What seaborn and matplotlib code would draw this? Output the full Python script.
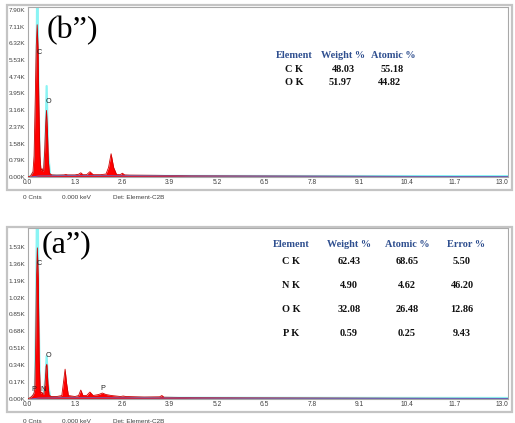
import numpy as np
import pandas as pd
import matplotlib
matplotlib.use("Agg")
import matplotlib.pyplot as plt
from matplotlib.patches import Rectangle
import seaborn as sns

# ---------------- data ----------------
# keV axis ticks
x_ticks = [0.0, 1.3, 2.6, 3.9, 5.2, 6.5, 7.8, 9.1, 10.4, 11.7, 13.0]

# (b'') spectrum, counts in thousands
b_energy = [0.00, 0.08, 0.15, 0.18, 0.21, 0.24, 0.265, 0.29, 0.31, 0.34, 0.37, 0.40,
            0.42, 0.44, 0.47, 0.50, 0.52, 0.545, 0.57, 0.60, 0.66, 0.80, 1.00, 1.05,
            1.10, 1.30, 1.40, 1.46, 1.52, 1.62, 1.71, 1.80, 2.00, 2.15, 2.22, 2.29,
            2.36, 2.44, 2.54, 2.60, 2.66, 2.80, 3.50, 4.50, 6.00, 8.00, 10.00, 13.18]
b_counts = [0.00, 0.04, 0.25, 1.00, 3.50, 6.20, 7.20, 6.00, 3.50, 1.00, 0.30, 0.40,
            0.28, 0.30, 1.20, 2.60, 3.15, 2.20, 0.80, 0.18, 0.10, 0.09, 0.10, 0.12,
            0.10, 0.10, 0.13, 0.20, 0.11, 0.11, 0.25, 0.11, 0.11, 0.14, 0.45, 1.10,
            0.45, 0.12, 0.11, 0.18, 0.10, 0.09, 0.08, 0.06, 0.05, 0.04, 0.03, 0.02]
b_fit_energy = [0.00, 0.10, 0.20, 0.24, 0.27, 0.30, 0.34, 0.44, 0.49, 0.525, 0.56,
                0.62, 1.00, 2.00, 13.18]
b_fit_counts = [0.00, 0.05, 0.30, 4.00, 9.50, 4.00, 0.20, 0.10, 1.50, 4.30, 1.20,
                0.08, 0.06, 0.05, 0.04]
b_yticks = [0.00, 0.79, 1.58, 2.37, 3.16, 3.95, 4.74, 5.53, 6.32, 7.11, 7.90]
b_peaks = [("C", 0.31, 5.90), ("O", 0.57, 3.58)]
b_rows = [("C K", "48.03", "55.18"), ("O K", "51.97", "44.82")]
b_header = ["Element", "Weight %", "Atomic %"]

# (a'') spectrum, counts in thousands
a_energy = [0.00, 0.08, 0.14, 0.18, 0.20, 0.22, 0.245, 0.27, 0.295, 0.32, 0.35, 0.37,
            0.39, 0.42, 0.45, 0.48, 0.51, 0.53, 0.56, 0.59, 0.65, 0.80, 0.94, 0.99,
            1.03, 1.07, 1.12, 1.30, 1.40, 1.46, 1.52, 1.62, 1.71, 1.80, 1.95, 2.05,
            2.15, 2.30, 2.55, 2.62, 2.70, 3.20, 3.62, 3.68, 3.74, 4.50, 6.00, 8.00,
            10.00, 13.18]
a_counts = [0.00, 0.015, 0.035, 0.06, 0.10, 0.45, 1.20, 1.52, 1.20, 0.40, 0.06, 0.06,
            0.07, 0.05, 0.05, 0.15, 0.33, 0.35, 0.15, 0.04, 0.025, 0.025, 0.035, 0.18,
            0.30, 0.16, 0.035, 0.025, 0.035, 0.09, 0.035, 0.035, 0.07, 0.035, 0.045,
            0.06, 0.045, 0.035, 0.025, 0.03, 0.025, 0.02, 0.022, 0.035, 0.018, 0.014,
            0.012, 0.010, 0.008, 0.006]
a_fit_energy = [0.00, 0.10, 0.20, 0.24, 0.27, 0.30, 0.34, 0.44, 0.49, 0.525, 0.56,
                0.62, 1.00, 2.00, 13.18]
a_fit_counts = [0.00, 0.01, 0.05, 1.00, 2.50, 1.00, 0.04, 0.03, 0.20, 0.43, 0.15,
                0.02, 0.015, 0.012, 0.01]
a_yticks = [0.00, 0.17, 0.34, 0.51, 0.68, 0.85, 1.02, 1.19, 1.36, 1.53]
a_peaks = [("C", 0.31, 1.36), ("O", 0.57, 0.44), ("P", 0.18, 0.10), ("N", 0.42, 0.10),
           ("P", 2.07, 0.11)]
a_rows = [("C K", "62.43", "68.65", "5.50"), ("N K", "4.90", "4.62", "46.20"),
          ("O K", "32.08", "26.48", "12.86"), ("P K", "0.59", "0.25", "9.43")]
a_header = ["Element", "Weight %", "Atomic %", "Error %"]

bg_energy = [0.10, 0.30, 1.00, 2.00, 4.00, 8.00, 13.18]
bg_level = [0.00, 0.80, 1.00, 1.00, 0.80, 0.60, 0.40]   # relative background shape

# ---------------- style ----------------
sns.set_theme(style="white")
plt.rcParams["font.family"] = ["Liberation Sans", "DejaVu Sans"]

W, H = 515, 423
fig = plt.figure(figsize=(W / 100, H / 100), dpi=100)
fig.patch.set_facecolor("white")

RED = "#ff0000"
RED_EDGE = "#d00000"
CYAN = "#8af4f4"
BLUE = "#5a6fd0"
HEAD = "#2f4f8f"
SERIF = ["Liberation Serif", "DejaVu Serif"]


def fx(px):
    return px / W


def fy(py):
    return 1 - py / H


def panel(frame_top, ax_top, ax_bot, ymax, energy, counts, fit_e, fit_c,
          yticks, peaks, tag, tag_xy, bg_scale, footer_y):
    # outer frame around the spectrum window
    fig.patches.append(Rectangle((fx(7), fy(frame_top + 185)), fx(505), 185 / H,
                                 transform=fig.transFigure, fill=False,
                                 edgecolor="#c4c4c4", linewidth=1.6, zorder=0))
    ax = fig.add_axes([fx(27.5), fy(ax_bot), fx(480), (ax_bot - ax_top) / H])
    ax.set_facecolor("white")
    ax.set_xlim(0, 13.15)
    ax.set_ylim(0, ymax)

    fit = pd.DataFrame({"keV": fit_e, "counts": fit_c})
    sns.lineplot(data=fit, x="keV", y="counts", ax=ax, color=CYAN, lw=1.6,
                 zorder=1, sort=False)
    df = pd.DataFrame({"keV": energy, "counts": counts})
    ax.fill_between(df["keV"], 0, df["counts"], color=RED, linewidth=0, zorder=2)
    sns.lineplot(data=df, x="keV", y="counts", ax=ax, color=RED_EDGE, lw=0.6,
                 zorder=3, sort=False)
    bg = pd.DataFrame({"keV": bg_energy, "counts": np.array(bg_level) * bg_scale})
    sns.lineplot(data=bg, x="keV", y="counts", ax=ax, color=BLUE, lw=0.6,
                 zorder=4, sort=False)

    for name, e, c in peaks:
        ax.text(e, c, name, fontsize=5.2, color="#202020", ha="center", va="center",
                zorder=5)

    ax.set_xticks(x_ticks)
    ax.set_xticklabels([f"{t:.1f}" for t in x_ticks], fontsize=4.8, color="#404040")
    ax.set_yticks(yticks)
    ax.set_yticklabels([f"{t:.2f}K" for t in yticks], fontsize=4.6, color="#404040")
    ax.tick_params(length=0, pad=1.5)
    ax.set_xlabel("")
    ax.set_ylabel("")
    for s in ax.spines.values():
        s.set_color("#a8a8a8")
        s.set_linewidth(0.8)

    ax.text(tag_xy[0], tag_xy[1], tag, transform=fig.transFigure,
            fontsize=23, family=SERIF, color="black", ha="left", va="center",
            zorder=6)

    for txt, x in [("0 Cnts", 23), ("0.000 keV", 62), ("Det: Element-C2B", 113)]:
        fig.text(fx(x), fy(footer_y), txt, fontsize=4.6, color="#404040",
                 ha="left", va="center")
    return ax


panel(5, 7, 177, 8.04, b_energy, b_counts, b_fit_energy, b_fit_counts,
      b_yticks, b_peaks, "(b\u201d)", (fx(47), fy(31)), 0.06, 197)
panel(227, 228, 399, 1.72, a_energy, a_counts, a_fit_energy, a_fit_counts,
      a_yticks, a_peaks, "(a\u201d)", (fx(42), fy(245)), 0.012, 421)

# composition tables
b_cols = [294, 343, 393]
for x, h in zip(b_cols, b_header):
    fig.text(fx(x), fy(56), h, fontsize=7.4, family=SERIF, weight="bold",
             color=HEAD, ha="center", va="center")
b_row_y = [70, 82]
b_val_x = [[294, 343, 392], [294, 340, 389]]
for y, row, xs in zip(b_row_y, b_rows, b_val_x):
    for x, v in zip(xs, row):
        fig.text(fx(x), fy(y), v, fontsize=7.4, family=SERIF, weight="bold",
                 color="#111111", ha="center", va="center")

a_cols = [291, 349, 407, 466]
for x, h in zip(a_cols, a_header):
    fig.text(fx(x), fy(244), h, fontsize=7.4, family=SERIF, weight="bold",
             color=HEAD, ha="center", va="center")
a_row_y = [262, 286, 309, 333]
a_val_x = [291, 349, 407, 462]
for y, row in zip(a_row_y, a_rows):
    for x, v in zip(a_val_x, row):
        fig.text(fx(x), fy(y), v, fontsize=7.4, family=SERIF, weight="bold",
                 color="#111111", ha="center", va="center")

fig.savefig("out.png", dpi=100)
